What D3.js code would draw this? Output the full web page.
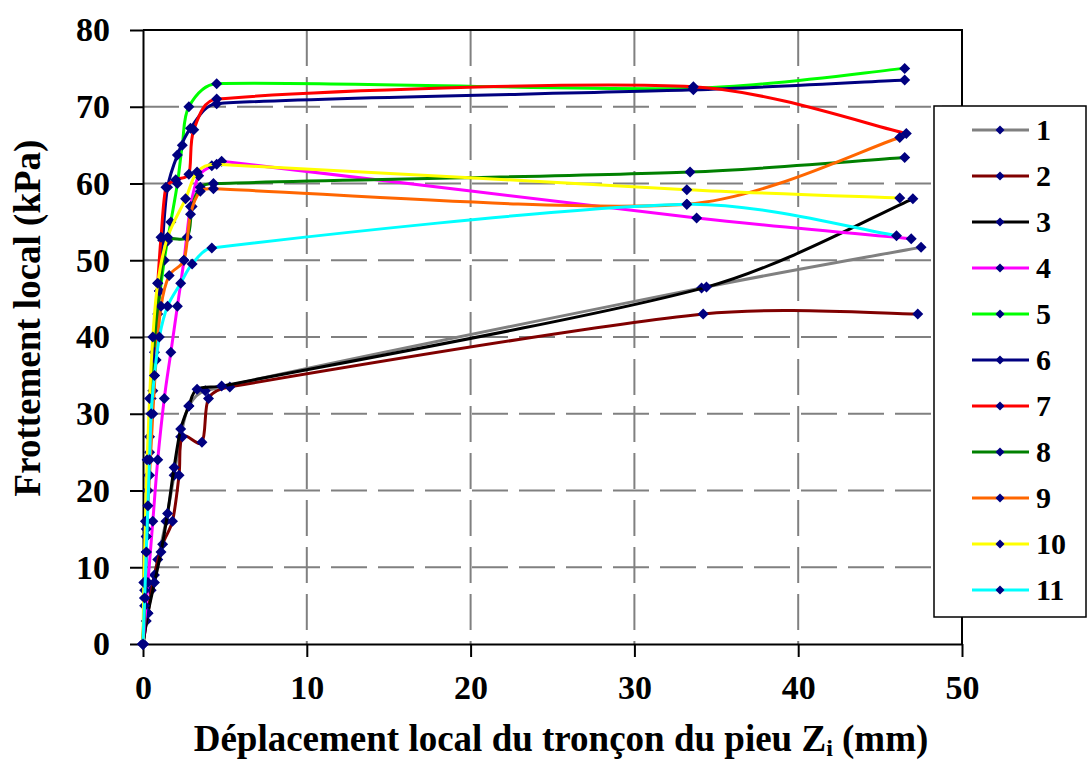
<!DOCTYPE html>
<html>
<head>
<meta charset="utf-8">
<script src="https://cdn.jsdelivr.net/npm/d3@7"></script>
<style>
  body { margin: 0; background: #fff; }
  text { font-family: "Liberation Serif", "Times New Roman", serif; font-weight: bold; }
</style>
</head>
<body>
<div id="chart"></div>
<script>
// series values: [displacement (mm), friction (kPa)]
var serie1 = [[0,0],[0.2,3],[0.5,7],[0.9,11],[1.4,16],[1.9,22],[2.3,27],[2.8,31],[3.8,33],[34.1,46.4],[47.5,51.7]];
var serie2 = [[0,0],[0.3,4],[0.7,9],[1.2,13],[1.8,16],[2.2,22],[2.4,27],[3.6,26.3],[4.0,32],[5.3,33.5],[34.2,43],[47.3,43]];
var serie3 = [[0,0],[0.3,4],[0.7,8],[1.1,12],[1.5,17],[1.9,23],[2.3,28],[2.8,31],[3.3,33.2],[4.8,33.6],[34.4,46.5],[47,58]];
var serie4 = [[0,0],[0.3,8],[0.6,16],[0.9,24],[1.3,32],[1.7,38],[2.1,44],[2.5,50],[2.9,57],[3.4,61],[4.2,62.3],[4.8,62.9],[33.8,55.5],[46.9,52.8]];
var serie5 = [[0,0],[0.1,8],[0.2,15],[0.4,25],[0.7,35],[0.9,43],[1.3,50],[1.7,55],[2.1,60],[2.4,65],[2.8,70],[4.5,73],[33.6,72.4],[46.5,75]];
var serie6 = [[0,0],[0.1,5],[0.2,12],[0.3,20],[0.4,27],[0.6,33],[0.8,40],[1.0,46],[1.2,52.6],[1.5,59.5],[2.1,63.7],[2.9,67.2],[4.5,70.4],[33.6,72.2],[46.5,73.5]];
var serie7 = [[0,0],[0.1,8],[0.2,16],[0.3,24],[0.5,32],[0.7,40],[0.9,47],[1.1,53],[1.4,59.5],[2.0,60.5],[2.8,61.2],[3.1,67],[4.5,71],[33.6,72.6],[46.6,66.5]];
var serie8 = [[0,0],[0.1,6],[0.2,14],[0.35,22],[0.5,30],[0.7,38],[1.0,46],[1.5,52.5],[2.7,53],[3.0,57],[3.5,59.5],[4.3,60],[33.4,61.5],[46.5,63.4]];
var serie9 = [[0,0],[0.1,7],[0.2,14],[0.4,22],[0.6,30],[0.8,37],[1.1,44],[1.6,48],[2.5,50],[2.9,56],[3.5,59],[4.3,59.3],[33.2,57.3],[46.2,66]];
var serie10 = [[0,0],[0.05,8],[0.15,16],[0.25,24],[0.4,32],[0.6,40],[0.9,47],[1.5,53],[2.6,58],[3.3,61.5],[4.5,62.5],[33.2,59.2],[46.2,58.1]];
var serie11 = [[0,0],[0.1,6],[0.2,12],[0.3,18],[0.4,24],[0.5,30],[0.7,35],[1.0,40],[1.5,44],[2.3,47],[3.0,49.5],[4.2,51.6],[33.2,57.3],[46,53.2]];

var names = ["1","2","3","4","5","6","7","8","9","10","11"];
var colors = ["#808080","#800000","#000000","#ff00ff","#00ff00","#000080","#ff0000","#008000","#ff6600","#ffff00","#00ffff"];
var xTicks = [0,10,20,30,40,50];
var yTicks = [0,10,20,30,40,50,60,70,80];

function init() {
    var w = 1088, h = 763;
    var series = [serie1, serie2, serie3, serie4, serie5, serie6, serie7, serie8, serie9, serie10, serie11];

    var xScale = d3.scaleLinear().domain([0, 50]).range([143, 962]);
    var yScale = d3.scaleLinear().domain([0, 80]).range([644, 30]);

    var svg = d3.select("#chart").append("svg")
        .attr("width", w).attr("height", h);

    // dashed grid
    svg.append("g").selectAll("line")
        .data(xTicks.slice(1, -1)).enter().append("line")
        .attr("x1", function (d) { return xScale(d); })
        .attr("x2", function (d) { return xScale(d); })
        .attr("y1", yScale(80)).attr("y2", yScale(0))
        .style("stroke", "#808080").style("stroke-width", 2)
        .style("stroke-dasharray", "36,11");
    svg.append("g").selectAll("line")
        .data(yTicks.slice(1, -1)).enter().append("line")
        .attr("x1", xScale(0)).attr("x2", xScale(50))
        .attr("y1", function (d) { return yScale(d); })
        .attr("y2", function (d) { return yScale(d); })
        .style("stroke", "#808080").style("stroke-width", 2)
        .style("stroke-dasharray", "36,11");

    // frame top / right
    svg.append("path")
        .attr("d", "M" + xScale(0) + "," + yScale(80) + "H" + xScale(50) + "V" + yScale(0))
        .style("fill", "none").style("stroke", "#000").style("stroke-width", 2);

    // axes
    var xAxis = d3.axisBottom(xScale).tickValues(xTicks).tickSize(13).tickPadding(18).tickSizeOuter(0);
    var yAxis = d3.axisLeft(yScale).tickValues(yTicks).tickSize(13).tickPadding(20).tickSizeOuter(0);

    var gx = svg.append("g").attr("transform", "translate(0," + yScale(0) + ")").call(xAxis);
    var gy = svg.append("g").attr("transform", "translate(" + xScale(0) + ",0)").call(yAxis);
    [gx, gy].forEach(function (g) {
        g.selectAll("path, line").style("stroke", "#000").style("stroke-width", 2);
        g.selectAll("text").style("font-size", "34px").style("fill", "#000")
            .style("font-family", "'Liberation Serif', serif").style("font-weight", "bold");
    });

    // Excel-like smoothed line
    function ctrl(a, b, c, L) {
        var tx = (c[0] - a[0]) / 6, ty = (c[1] - a[1]) / 6;
        var len = Math.sqrt(tx * tx + ty * ty) || 1;
        var s = Math.min(1, 0.35 * L / len);
        return [tx * s, ty * s];
    }
    function smooth(data) {
        var pts = data.map(function (d) { return [xScale(d[0]), yScale(d[1])]; });
        var p = d3.path();
        p.moveTo(pts[0][0], pts[0][1]);
        for (var i = 0; i < pts.length - 1; i++) {
            var p0 = pts[Math.max(i - 1, 0)], p1 = pts[i], p2 = pts[i + 1], p3 = pts[Math.min(i + 2, pts.length - 1)];
            var L = Math.hypot(p2[0] - p1[0], p2[1] - p1[1]);
            var t1 = ctrl(p0, p1, p2, L), t2 = ctrl(p1, p2, p3, L);
            p.bezierCurveTo(p1[0] + t1[0], p1[1] + t1[1], p2[0] - t2[0], p2[1] - t2[1], p2[0], p2[1]);
        }
        return p.toString();
    }
    function diamond(r) {
        return "M0," + (-r) + "L" + r + ",0L0," + r + "L" + (-r) + ",0Z";
    }

    series.forEach(function (data, i) {
        svg.append("path")
            .attr("d", smooth(data))
            .style("fill", "none").style("stroke", colors[i]).style("stroke-width", 3);
        svg.append("g").selectAll("path")
            .data(data).enter().append("path")
            .attr("transform", function (d) { return "translate(" + xScale(d[0]) + "," + yScale(d[1]) + ")"; })
            .attr("d", diamond(5.5))
            .style("fill", "#000080");
    });

    // legend
    var lg = svg.append("g");
    lg.append("rect").attr("x", 934).attr("y", 106).attr("width", 152).attr("height", 511)
        .style("fill", "#fff").style("stroke", "#000").style("stroke-width", 1.5);
    var item = lg.selectAll("g.item").data(names).enter().append("g")
        .attr("transform", function (d, i) { return "translate(0," + (130 + i * 46) + ")"; });
    item.append("line").attr("x1", 972).attr("x2", 1029).attr("y1", 0).attr("y2", 0)
        .style("stroke", function (d, i) { return colors[i]; }).style("stroke-width", 3);
    item.append("path").attr("transform", "translate(1000,0)").attr("d", diamond(4.5)).style("fill", "#000080");
    item.append("text").attr("x", 1036).attr("y", 10).style("font-size", "30px").text(function (d) { return d; });

    // axis titles
    var xt = svg.append("text").attr("x", 561).attr("y", 751).attr("text-anchor", "middle")
        .style("font-size", "37px");
    xt.append("tspan").text("Déplacement local du tronçon du pieu Z");
    xt.append("tspan").attr("dy", 5).style("font-size", "24px").text("i");
    xt.append("tspan").attr("dy", -5).text(" (mm)");

    svg.append("text").attr("transform", "translate(40,318) rotate(-90)")
        .attr("text-anchor", "middle").style("font-size", "37px")
        .text("Frottement local (kPa)");
}

window.onload = init;
</script>
</body>
</html>
